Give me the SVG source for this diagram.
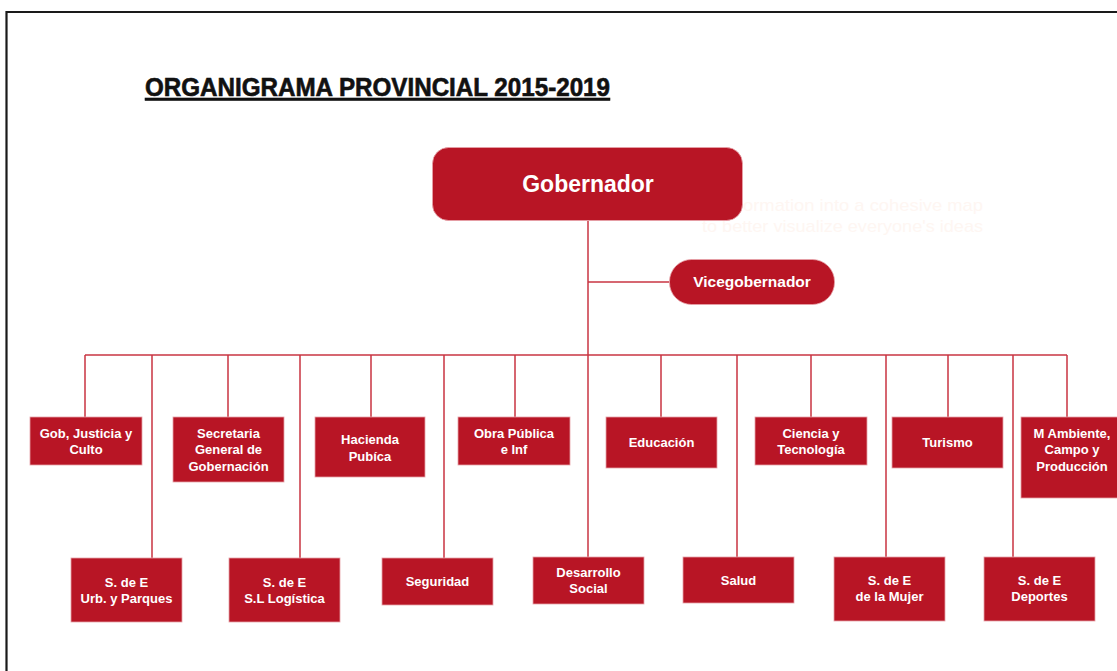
<svg xmlns="http://www.w3.org/2000/svg" width="1117" height="671" viewBox="0 0 1117 671">
<style>
.box{fill:#b81525;stroke:#e7a2a8;stroke-width:0.8}
.lbl{font-family:"Liberation Sans",Arial,sans-serif;font-weight:bold;font-size:13px;fill:#fff;text-anchor:middle}
.ln{stroke:#c93442;stroke-width:1.5;fill:none}
</style>
<rect x="0" y="0" width="1117" height="671" fill="#fff"/>
<path d="M6.5,671 V12 H1117" fill="none" stroke="#1a1a1a" stroke-width="2.2"/>
<text x="145" y="96" font-family="'Liberation Sans',Arial,sans-serif" font-weight="bold" font-size="25" textLength="465" lengthAdjust="spacingAndGlyphs" fill="#111" stroke="#111" stroke-width="0.6" text-decoration="underline">ORGANIGRAMA PROVINCIAL 2015-2019</text>
<g id="faint" font-family="'Liberation Sans',Arial,sans-serif" font-size="17" fill="#fef6f2">
<text x="743" y="211" textLength="240" lengthAdjust="spacingAndGlyphs">ormation into a cohesive map</text>
<text x="702" y="232" textLength="281" lengthAdjust="spacingAndGlyphs">to better visualize everyone's ideas</text>
</g>
<g id="connectors" class="ln">
<path d="M588,221 V557"/>
<path d="M588,282 H669"/>
<path d="M85,355 H1067"/>
<path d="M85,355 V417 M228,355 V417 M371,355 V417 M515,355 V417 M661,355 V417 M811,355 V417 M948,355 V417 M1067,355 V417"/>
<path d="M152,355 V558 M300,355 V558 M444,355 V558 M737,355 V557 M886,355 V557 M1013,355 V557"/>
</g>
<g id="gobernador"><rect x="432.5" y="147.5" width="310" height="73" rx="16" fill="#b81525" stroke="#e7a2a8" stroke-width="0.8"/><text x="588" y="192" font-family="'Liberation Sans',Arial,sans-serif" font-weight="bold" font-size="23" fill="#fff" text-anchor="middle">Gobernador</text></g>
<g id="vicegobernador"><rect x="669.5" y="259.5" width="165" height="45" rx="22" fill="#b81525" stroke="#e7a2a8" stroke-width="0.8"/><text x="752" y="287" font-family="'Liberation Sans',Arial,sans-serif" font-weight="bold" font-size="15.5" fill="#fff" text-anchor="middle">Vicegobernador</text></g>
<g id="gob-justicia"><rect class="box" x="30" y="417" width="112" height="48"/><text class="lbl" x="86" y="438">Gob, Justicia y</text><text class="lbl" x="86" y="454">Culto</text></g>
<g id="secretaria"><rect class="box" x="173" y="417" width="111" height="65"/><text class="lbl" x="228.5" y="438">Secretaria</text><text class="lbl" x="228.5" y="454">General de</text><text class="lbl" x="228.5" y="471">Gobernación</text></g>
<g id="hacienda"><rect class="box" x="315" y="417" width="110" height="60"/><text class="lbl" x="370" y="444">Hacienda</text><text class="lbl" x="370" y="461">Pubíca</text></g>
<g id="obra"><rect class="box" x="458" y="417" width="112" height="48"/><text class="lbl" x="514" y="438">Obra Pública</text><text class="lbl" x="514" y="454">e Inf</text></g>
<g id="educacion"><rect class="box" x="606" y="417" width="111" height="51"/><text class="lbl" x="661.5" y="447">Educación</text></g>
<g id="ciencia"><rect class="box" x="755" y="417" width="112" height="48"/><text class="lbl" x="811" y="438">Ciencia y</text><text class="lbl" x="811" y="454">Tecnología</text></g>
<g id="turismo"><rect class="box" x="892" y="417" width="111" height="51"/><text class="lbl" x="947.5" y="447">Turismo</text></g>
<g id="ambiente"><rect class="box" x="1021" y="417" width="104" height="81"/><text class="lbl" x="1072" y="438">M Ambiente,</text><text class="lbl" x="1072" y="454">Campo y</text><text class="lbl" x="1072" y="471">Producción</text></g>
<g id="urb"><rect class="box" x="71" y="558" width="111" height="64"/><text class="lbl" x="126.5" y="587">S. de E</text><text class="lbl" x="126.5" y="603">Urb. y Parques</text></g>
<g id="logistica"><rect class="box" x="229" y="558" width="111" height="64"/><text class="lbl" x="284.5" y="587">S. de E</text><text class="lbl" x="284.5" y="603">S.L Logística</text></g>
<g id="seguridad"><rect class="box" x="382" y="558" width="111" height="47"/><text class="lbl" x="437.5" y="586">Seguridad</text></g>
<g id="desarrollo"><rect class="box" x="533" y="557" width="111" height="47"/><text class="lbl" x="588.5" y="577">Desarrollo</text><text class="lbl" x="588.5" y="593">Social</text></g>
<g id="salud"><rect class="box" x="683" y="557" width="111" height="46"/><text class="lbl" x="738.5" y="585">Salud</text></g>
<g id="mujer"><rect class="box" x="834" y="557" width="111" height="64"/><text class="lbl" x="889.5" y="585">S. de E</text><text class="lbl" x="889.5" y="601">de la Mujer</text></g>
<g id="deportes"><rect class="box" x="984" y="557" width="111" height="64"/><text class="lbl" x="1039.5" y="585">S. de E</text><text class="lbl" x="1039.5" y="601">Deportes</text></g>
</svg>
